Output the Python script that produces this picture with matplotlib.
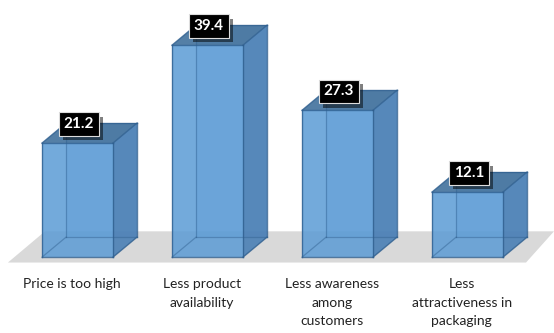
import numpy as np
import matplotlib.pyplot as plt
from matplotlib.patches import Polygon
import matplotlib.patheffects as pe

# Datos del grafico
categorias = ['Price is too high', 'Less product\navailability',
              'Less awareness\namong\ncustomers', 'Less\nattractiveness in\npackaging']
valores = [21.2, 39.4, 27.3, 12.1]

plt.rcParams['font.family'] = ['Lato', 'DejaVu Sans']

fig = plt.figure(figsize=(5.54, 3.33), dpi=100)
ax = fig.add_axes([0, 0, 1, 1])
ax.set_xlim(-0.596, 3.665)
ax.set_ylim(-14.1, 47.8)
ax.axis('off')

ancho = 0.546      # ancho de la cara frontal
dx, dy = 0.185, 3.72  # profundidad del efecto 3D

# Suelo gris
suelo = Polygon([(-0.535, -1.0), (3.45, -1.0), (3.665, 4.8), (-0.25, 4.8)],
                closed=True, facecolor='#d9d9d9', edgecolor='none', zorder=0)
ax.add_patch(suelo)

c_frente = '#5b9bd5'
c_lado = '#4a7fb5'
c_tapa = '#41719c'
c_borde = '#2f5f8f'

for i, v in enumerate(valores):
    x0 = i - ancho / 2
    x1 = i + ancho / 2
    # cara trasera y lateral izquierda (vistas a traves)
    ax.add_patch(Polygon([(x0 + dx, dy), (x1 + dx, dy), (x1 + dx, v + dy), (x0 + dx, v + dy)],
                         facecolor=c_frente, alpha=0.35, edgecolor='none', zorder=1))
    # lado derecho
    ax.add_patch(Polygon([(x1, 0), (x1 + dx, dy), (x1 + dx, v + dy), (x1, v)],
                         facecolor=c_lado, alpha=0.9, edgecolor='none', zorder=2))
    # tapa
    ax.add_patch(Polygon([(x0, v), (x1, v), (x1 + dx, v + dy), (x0 + dx, v + dy)],
                         facecolor=c_tapa, alpha=0.9, edgecolor='none', zorder=2))
    # frente
    ax.add_patch(Polygon([(x0, 0), (x1, 0), (x1, v), (x0, v)],
                         facecolor=c_frente, alpha=0.85, edgecolor='none', zorder=3))

    # aristas
    aristas = [
        [(x0, 0), (x1, 0)], [(x1, 0), (x1, v)], [(x1, v), (x0, v)], [(x0, v), (x0, 0)],
        [(x1, 0), (x1 + dx, dy)], [(x1, v), (x1 + dx, v + dy)], [(x0, v), (x0 + dx, v + dy)],
        [(x0 + dx, v + dy), (x1 + dx, v + dy)], [(x1 + dx, dy), (x1 + dx, v + dy)],
    ]
    for a in aristas:
        xs, ys = zip(*a)
        ax.plot(xs, ys, color=c_borde, lw=1.0, alpha=0.8, zorder=4)
    # aristas ocultas
    ocultas = [[(x0, 0), (x0 + dx, dy)], [(x0 + dx, dy), (x1 + dx, dy)],
               [(x0 + dx, dy), (x0 + dx, v + dy)]]
    for a in ocultas:
        xs, ys = zip(*a)
        ax.plot(xs, ys, color=c_borde, lw=0.9, alpha=0.45, zorder=4)

    # etiqueta de valor
    ax.text(i + 0.01, v + 3.5, f'{v}', ha='center', va='center', color='white',
            fontsize=11, fontweight='bold', zorder=6,
            bbox=dict(boxstyle='square,pad=0.32', facecolor='black', edgecolor='#dddddd', lw=0.8,
                      path_effects=[pe.withSimplePatchShadow(offset=(3, -3), shadow_rgbFace='black', alpha=0.5)]))

    # nombre de la categoria
    ax.text(i - 0.045, -3.9, categorias[i], ha='center', va='top', color='#222222',
            fontsize=10, linespacing=1.65, zorder=5)

fig.savefig('out.png', dpi=100)
